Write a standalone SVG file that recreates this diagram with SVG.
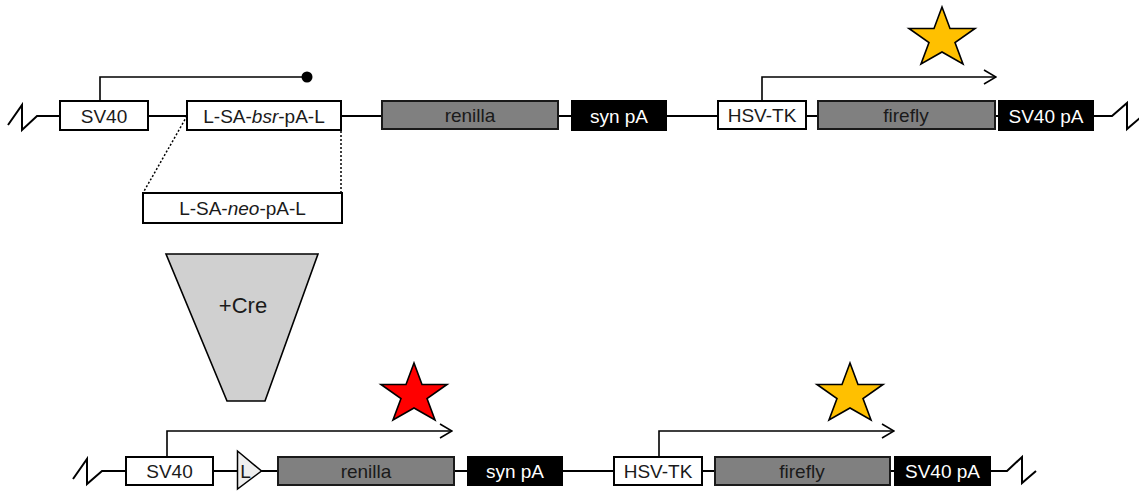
<svg xmlns="http://www.w3.org/2000/svg" width="1139" height="491" viewBox="0 0 1139 491">
<style>
text{font-family:"Liberation Sans",Arial,sans-serif;font-size:19px;text-anchor:middle;fill:#1a1a1a}
.wb{fill:#fff;stroke:#000;stroke-width:2}
.gb{fill:#808080;stroke:#1a1a1a;stroke-width:2}
.bb{fill:#000;stroke:#000;stroke-width:2}
.wt{fill:#fff}
.ln{fill:none;stroke:#000;stroke-width:2}
.pr{fill:none;stroke:#000;stroke-width:1.6}
.dot{fill:none;stroke:#000;stroke-width:1.5;stroke-dasharray:2 2}
.star{stroke:#000;stroke-width:1.6;stroke-linejoin:miter}
</style>
<defs>
<path id="star" d="M33,0 L41,21.5 L66,21.5 L46,35.5 L54,57 L33,45 L12,57 L20,35.5 L0,21.5 L25,21.5 Z"/>
<marker id="chev" viewBox="0 0 14 16" refX="13" refY="8" markerWidth="14" markerHeight="16" markerUnits="userSpaceOnUse" orient="auto">
<path d="M1,1 L13,8 L1,15" fill="none" stroke="#000" stroke-width="1.6"/>
</marker>
</defs>
<g id="connectors">
<path class="ln" d="M8,125 L22,105 L22,130 L37,116 L1112,116 L1127,103 L1127,129 L1141,117"/>
<path class="ln" d="M73,479 L87,459 L87,484 L102,471 L1007,471 L1022,457 L1022,483 L1036,471"/>
<path class="pr" d="M100,101 L100,77 L307,77"/>
<circle cx="307" cy="77" r="5.5" fill="#000"/>
<path class="pr" d="M762,101 L762,77 L996,77" marker-end="url(#chev)"/>
<path class="pr" d="M167,457 L167,431 L452,431" marker-end="url(#chev)"/>
<path class="pr" d="M659,457 L659,431 L894,431" marker-end="url(#chev)"/>
<path class="dot" d="M187,116 L143,193 M341,131 L341,193"/>
</g>
<g id="sv40-top"><rect class="wb" x="60" y="101" width="88" height="29"/><text x="104" y="122.5">SV40</text></g>
<g id="lsabsr"><rect class="wb" x="187" y="101" width="154" height="29"/><text x="264" y="122.5">L-SA-<tspan font-style="italic">bsr</tspan>-pA-L</text></g>
<g id="lsaneo"><rect class="wb" x="143" y="193" width="199" height="30"/><text x="242.5" y="215">L-SA-<tspan font-style="italic">neo</tspan>-pA-L</text></g>
<g id="renilla-top"><rect class="gb" x="382" y="101" width="176" height="28"/><text x="470" y="122">renilla</text></g>
<g id="synpa-top"><rect class="bb" x="572" y="101" width="94" height="29"/><text class="wt" x="619" y="122.5">syn pA</text></g>
<g id="hsvtk-top"><rect class="wb" x="718" y="101" width="88" height="28"/><text x="762" y="122">HSV-TK</text></g>
<g id="firefly-top"><rect class="gb" x="818" y="101" width="177" height="28"/><text x="906" y="122">firefly</text></g>
<g id="sv40pa-top"><rect class="bb" x="999" y="101" width="94" height="29"/><text class="wt" x="1046" y="122.5">SV40 pA</text></g>
<g id="star-top"><use href="#star" x="909" y="7" class="star" fill="#FFC000"/></g>
<g id="cre"><path d="M166,254 L318,254 L265,401 L227,401 Z" fill="#d0d0d0" stroke="#000" stroke-width="1.6"/><text x="243" y="313" style="font-size:22px">+Cre</text></g>
<g id="sv40-bot"><rect class="wb" x="126" y="457" width="87" height="28"/><text x="169.5" y="478">SV40</text></g>
<g id="loxp"><path d="M237.5,451 L237.5,489 L261.5,471 Z" fill="#eeeeee" stroke="#000" stroke-width="1.5"/><text x="245.5" y="477.5">L</text></g>
<g id="renilla-bot"><rect class="gb" x="278" y="457" width="176" height="28"/><text x="366" y="478">renilla</text></g>
<g id="synpa-bot"><rect class="bb" x="468" y="457" width="94" height="28"/><text class="wt" x="515" y="478">syn pA</text></g>
<g id="hsvtk-bot"><rect class="wb" x="614" y="457" width="88" height="28"/><text x="658" y="478">HSV-TK</text></g>
<g id="firefly-bot"><rect class="gb" x="715" y="457" width="175" height="28"/><text x="802" y="478">firefly</text></g>
<g id="sv40pa-bot"><rect class="bb" x="895" y="457" width="95" height="28"/><text class="wt" x="942.5" y="478">SV40 pA</text></g>
<g id="star-red"><use href="#star" x="381" y="363" class="star" fill="#FF0000"/></g>
<g id="star-bot"><use href="#star" x="817" y="363" class="star" fill="#FFC000"/></g>
</svg>
